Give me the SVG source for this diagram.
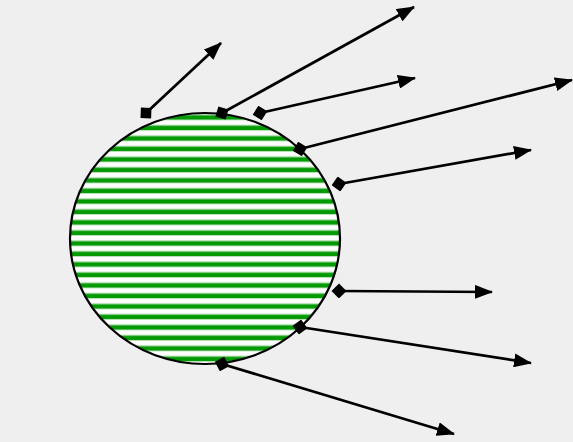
<svg xmlns="http://www.w3.org/2000/svg" width="573" height="442" viewBox="0 0 573 442">
<style>
.c{stroke:#000;stroke-width:2.7;fill:none;marker-start:url(#dia);marker-end:url(#arr)}
</style>
<defs>
<linearGradient id="sg" x1="0" y1="0" x2="0" y2="1">
<stop offset="0" stop-color="#ffffff"/>
<stop offset="0.35" stop-color="#ffffff"/>
<stop offset="0.45" stop-color="#b8e0b8"/>
<stop offset="0.56" stop-color="#009900"/>
<stop offset="0.86" stop-color="#009900"/>
<stop offset="0.95" stop-color="#b8e0b8"/>
<stop offset="1" stop-color="#ffffff"/>
</linearGradient>
<pattern id="stripes" patternUnits="userSpaceOnUse" x="0" y="110" width="20" height="10.5">
<rect width="20" height="10.5" fill="url(#sg)"/>
</pattern>
<marker id="arr" markerUnits="userSpaceOnUse" viewBox="0 0 18 14" markerWidth="18" markerHeight="14" refX="17" refY="7" orient="auto">
<path d="M0,0 L18,7 L0,14 z" fill="#000"/>
</marker>
<marker id="dia" markerUnits="userSpaceOnUse" viewBox="0 0 15 15" markerWidth="15" markerHeight="15" refX="7.5" refY="7.5" orient="auto">
<path d="M0,7.5 L7.5,0 L15,7.5 L7.5,15 z" fill="#000"/>
</marker>
</defs>
<rect width="573" height="442" fill="#efefef"/>
<g id="circle">
<ellipse cx="205" cy="238.5" rx="135" ry="125.5" fill="url(#stripes)" stroke="#000" stroke-width="2.2"/>
</g>
<g id="connectors">
<path class="c" d="M146,113 L221,43"/>
<path class="c" d="M222,113 L414,7"/>
<path class="c" d="M260,113 L415,78"/>
<path class="c" d="M300,149 L572,80"/>
<path class="c" d="M339,184 L531,150"/>
<path class="c" d="M339,291 L492,292"/>
<path class="c" d="M300,327 L531,363"/>
<path class="c" d="M222,364 L454,434"/>
</g>
</svg>
